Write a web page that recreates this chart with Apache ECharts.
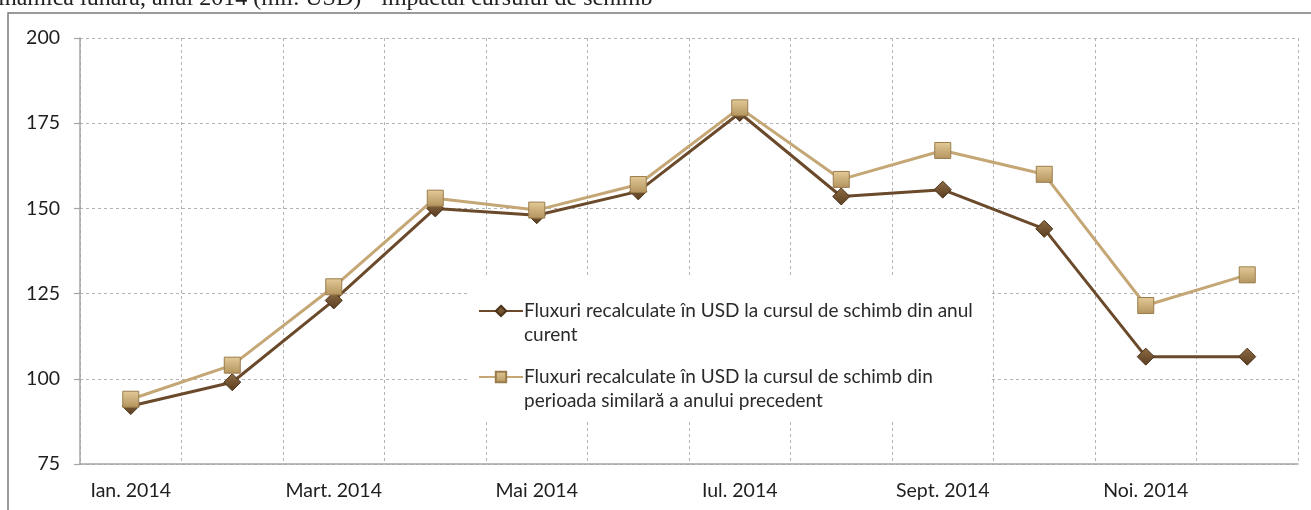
<html>

<head>
    <script src="https://cdn.jsdelivr.net/npm/echarts@6/dist/echarts.min.js"></script>
    <style>
        html, body {
            margin: 0;
            padding: 0;
            background: #fff;
        }

        #graph {
            width: 1311px;
            height: 510px;
        }
    </style>
</head>

<body>
    <div id="graph"></div>
    <script>
        // lunile anului 2014
        var luni = ['Ian. 2014', 'Feb. 2014', 'Mart. 2014', 'Apr. 2014', 'Mai 2014', 'Iun. 2014',
            'Iul. 2014', 'Aug. 2014', 'Sept. 2014', 'Oct. 2014', 'Noi. 2014', 'Dec. 2014'];

        // mil. USD
        var cursCurent = [92, 99, 123, 150, 148, 155, 178, 153.5, 155.5, 144, 106.5, 106.5];
        var cursPrecedent = [94, 104, 127, 153, 149.5, 157, 179.5, 158.5, 167, 160, 121.5, 130.5];

        var numeCurent = 'Fluxuri recalculate în USD la cursul de schimb din anul curent';
        var numePrecedent = 'Fluxuri recalculate în USD la cursul de schimb din perioada similară a anului precedent';

        // primul rand gol tine iconita in dreptul primului rand de text
        var randuriLegenda = {};
        randuriLegenda[numeCurent] = '\nFluxuri recalculate în USD la cursul de schimb din anul\ncurent';
        randuriLegenda[numePrecedent] = '\nFluxuri recalculate în USD la cursul de schimb din\nperioada similară a anului precedent';

        var font = 'Lato';

        var myChart = echarts.init(document.getElementById('graph'));
        var option = {
            animation: false,
            backgroundColor: '#fff',
            title: {
                text: 'dinamica lunară, anul 2014 (mil. USD) - impactul cursului de schimb',
                left: -14,
                top: -13,
                padding: 0,
                textStyle: {
                    fontFamily: 'Liberation Serif',
                    fontSize: 24,
                    fontWeight: 'normal',
                    color: '#222'
                }
            },
            graphic: [{
                type: 'polyline',
                shape: { points: [[8, 510], [8, 13], [1311, 13]] },
                style: { stroke: '#7a7a7a', lineWidth: 1.5, fill: null }
            }],
            grid: {
                left: 80,
                right: 13,
                top: 38,
                bottom: 46
            },
            legend: {
                orient: 'vertical',
                left: 470,
                top: 275,
                backgroundColor: '#fff',
                padding: [0, 16, 8, 8],
                itemGap: -6,
                itemWidth: 44,
                itemHeight: 13,
                formatter: function (name) {
                    return randuriLegenda[name];
                },
                textStyle: {
                    fontFamily: font,
                    fontSize: 19,
                    lineHeight: 24,
                    color: '#2a2a2a',
                    padding: [0, 0, 0, -4]
                },
                data: [numeCurent, numePrecedent]
            },
            xAxis: {
                type: 'category',
                data: luni,
                boundaryGap: true,
                axisLine: { lineStyle: { color: '#a5a5a5', width: 1.5 } },
                axisTick: { interval: 0, length: 5, lineStyle: { color: '#a5a5a5', width: 1.2 } },
                axisLabel: {
                    interval: 1,
                    margin: 17,
                    fontFamily: font,
                    fontSize: 19.5,
                    color: '#1e1e1e'
                },
                splitLine: {
                    show: true,
                    interval: 0,
                    lineStyle: { color: '#b3b3b3', type: [3, 3], width: 1 }
                }
            },
            yAxis: {
                type: 'value',
                min: 75,
                max: 200,
                interval: 25,
                axisLine: { show: true, lineStyle: { color: '#a5a5a5', width: 1.5 } },
                axisTick: { show: true, length: 6, lineStyle: { color: '#a5a5a5', width: 1.2 } },
                axisLabel: {
                    margin: 20,
                    fontFamily: font,
                    fontSize: 19.5,
                    color: '#1e1e1e'
                },
                splitLine: {
                    lineStyle: { color: '#b3b3b3', type: [3, 3], width: 1 }
                }
            },
            series: [{
                name: numeCurent,
                type: 'line',
                data: cursCurent,
                symbol: 'diamond',
                symbolSize: 17,
                z: 3,
                lineStyle: { color: '#6a4a2a', width: 3 },
                itemStyle: {
                    color: new echarts.graphic.LinearGradient(0, 0, 0, 1, [
                        { offset: 0, color: '#8e6c45' },
                        { offset: 1, color: '#5a3d20' }
                    ]),
                    borderColor: '#4a3219',
                    borderWidth: 1
                }
            }, {
                name: numePrecedent,
                type: 'line',
                data: cursPrecedent,
                symbol: 'rect',
                symbolSize: 16,
                z: 4,
                lineStyle: { color: '#c4a775', width: 3 },
                itemStyle: {
                    color: new echarts.graphic.LinearGradient(0, 0, 0, 1, [
                        { offset: 0, color: '#e3cb98' },
                        { offset: 1, color: '#b3935d' }
                    ]),
                    borderColor: '#9a7c4c',
                    borderWidth: 1
                }
            }]
        };

        option && myChart.setOption(option);
    </script>
</body>

</html>
